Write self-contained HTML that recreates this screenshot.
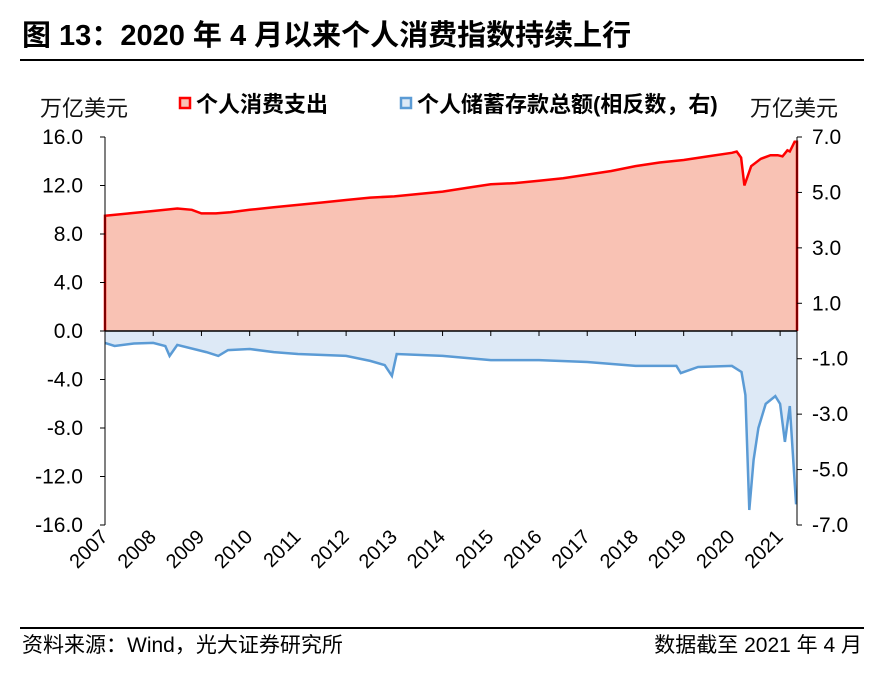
<!DOCTYPE html>
<html><head><meta charset="utf-8"><style>
body{margin:0;background:#fff;font-family:"Liberation Sans","Noto Sans CJK SC",sans-serif;}
svg text{font-family:"Liberation Sans","Noto Sans CJK SC",sans-serif;}
</style></head><body>
<svg id="c" width="894" height="676">
<text x="22" y="45" font-size="29" font-weight="bold" fill="#000">图 13：2020 年 4 月以来个人消费指数持续上行</text>
<rect x="20" y="59" width="844" height="2" fill="#000"/>
<text x="40" y="116" font-size="22" fill="#111">万亿美元</text>
<text x="750" y="116" font-size="22" fill="#111">万亿美元</text>
<g><rect x="180" y="98" width="10" height="10" fill="#f9c2b4" stroke="#f00" stroke-width="2.5"/><text x="196" y="112" font-size="22" font-weight="bold">个人消费支出</text></g>
<g><rect x="401" y="98" width="10" height="10" fill="#dde9f6" stroke="#5b9bd5" stroke-width="2.5"/><text x="417" y="112" font-size="22" font-weight="bold">个人储蓄存款总额(相反数，右)</text></g>
<g id="plot"></g>
<rect x="20" y="627" width="844" height="2" fill="#000"/>
<text x="22" y="652" font-size="21">资料来源：Wind，光大证券研究所</text>
<text x="862" y="652" font-size="21" text-anchor="end">数据截至 2021 年 4 月</text>
</svg>
<script>
const spendX=[2007.0,2007.5,2008.0,2008.5,2008.8,2009.0,2009.3,2009.6,2010.0,2010.5,2011.0,2011.5,2012.0,2012.5,2013.0,2013.5,2014.0,2014.5,2015.0,2015.5,2016.0,2016.5,2017.0,2017.5,2018.0,2018.5,2019.0,2019.5,2020.0,2020.1,2020.19,2020.26,2020.4,2020.6,2020.8,2020.95,2021.05,2021.15,2021.2,2021.3,2021.35];
const spendV=[9.5,9.7,9.9,10.1,10.0,9.7,9.7,9.8,10.0,10.2,10.4,10.6,10.8,11.0,11.1,11.3,11.5,11.8,12.1,12.2,12.4,12.6,12.9,13.2,13.6,13.9,14.1,14.4,14.7,14.8,14.3,12.0,13.6,14.2,14.5,14.5,14.4,14.9,14.8,15.6,15.6];
const saveX=[2007.0,2007.2,2007.6,2008.0,2008.25,2008.34,2008.5,2009.1,2009.35,2009.55,2010.0,2010.5,2011.0,2012.0,2012.5,2012.8,2012.95,2013.05,2014.0,2015.0,2016.0,2017.0,2018.0,2018.85,2018.94,2019.3,2020.0,2020.2,2020.28,2020.36,2020.45,2020.55,2020.7,2020.9,2021.0,2021.1,2021.2,2021.33,2021.35];
const saveV=[-0.43,-0.54,-0.45,-0.43,-0.54,-0.9,-0.5,-0.76,-0.9,-0.69,-0.65,-0.76,-0.83,-0.9,-1.08,-1.23,-1.62,-0.83,-0.9,-1.05,-1.05,-1.12,-1.26,-1.26,-1.52,-1.3,-1.26,-1.48,-2.31,-6.46,-4.65,-3.5,-2.63,-2.35,-2.63,-4.0,-2.71,-6.21,-6.21];
const leftTicks=[16,12,8,4,0,-4,-8,-12,-16];
const leftLabels=["16.0","12.0","8.0","4.0","0.0","-4.0","-8.0","-12.0","-16.0"];
const rightTicks=[7,5,3,1,-1,-3,-5,-7];
const rightLabels=["7.0","5.0","3.0","1.0","-1.0","-3.0","-5.0","-7.0"];
const years=[2007,2008,2009,2010,2011,2012,2013,2014,2015,2016,2017,2018,2019,2020,2021];
const X0=105,X1=797,Y0=331,PX=12.125;
const xs=t=>X0+(t-2007)*(X1-X0)/(2021.35-2007);
const yl=v=>Y0-v*PX;
const yr=v=>Y0-v*16/7*PX;
const NS="http://www.w3.org/2000/svg",g=document.getElementById('plot');
function mk(tag,a,txt){const e=document.createElementNS(NS,tag);for(const k in a)e.setAttribute(k,a[k]);if(txt!==undefined)e.textContent=txt;g.appendChild(e);return e;}
let p1=spendX.map((t,i)=>xs(t).toFixed(1)+','+yl(spendV[i]).toFixed(1));
let a1=mk('path',{d:'M'+xs(spendX[0])+','+Y0+' L'+p1.join(' L')+' L'+xs(spendX[spendX.length-1])+','+Y0+'Z',fill:'#f9c2b4'});


let l1=mk('path',{d:'M'+xs(spendX[0])+','+Y0+' L'+p1.join(' L')+' L'+xs(spendX[spendX.length-1])+','+Y0,fill:'none',stroke:'#f00','stroke-width':2.5});


let p2=saveX.map((t,i)=>xs(t).toFixed(1)+','+yr(saveV[i]).toFixed(1));
let a2=mk('path',{d:'M'+xs(saveX[0])+','+Y0+' L'+p2.join(' L')+' L'+xs(saveX[saveX.length-1])+','+Y0+'Z',fill:'#dde9f6'});


let l2=mk('path',{d:'M'+p2.join(' L'),fill:'none',stroke:'#5b9bd5','stroke-width':2.5});


mk('line',{x1:X0,y1:Y0,x2:X1,y2:Y0,stroke:'#000','stroke-width':1.5});
mk('line',{x1:X0,y1:yl(16),x2:X0,y2:yl(-16),stroke:'#000','stroke-width':1});
mk('line',{x1:X1,y1:yr(7),x2:X1,y2:yr(-7),stroke:'#000','stroke-width':1});
leftTicks.forEach((v,i)=>{mk('line',{x1:X0-5,y1:yl(v),x2:X0,y2:yl(v),stroke:'#000'});
 const t=mk('text',{x:83,y:yl(v)+7,'font-size':21,'text-anchor':'end'},leftLabels[i]);
 
 });
rightTicks.forEach((v,i)=>{mk('line',{x1:X1,y1:yr(v),x2:X1+5,y2:yr(v),stroke:'#000'});
 const t=mk('text',{x:812,y:yr(v)+7,'font-size':21},rightLabels[i]);
 
 });
years.forEach(y=>{const x=xs(y);mk('line',{x1:x,y1:Y0,x2:x,y2:Y0+5,stroke:'#000'});
 const t=mk('text',{x:x+4,y:538,'font-size':20,'text-anchor':'end',transform:'rotate(-45 '+(x+4)+' 538)'},String(y));
 
 });
</script>
</body></html>
